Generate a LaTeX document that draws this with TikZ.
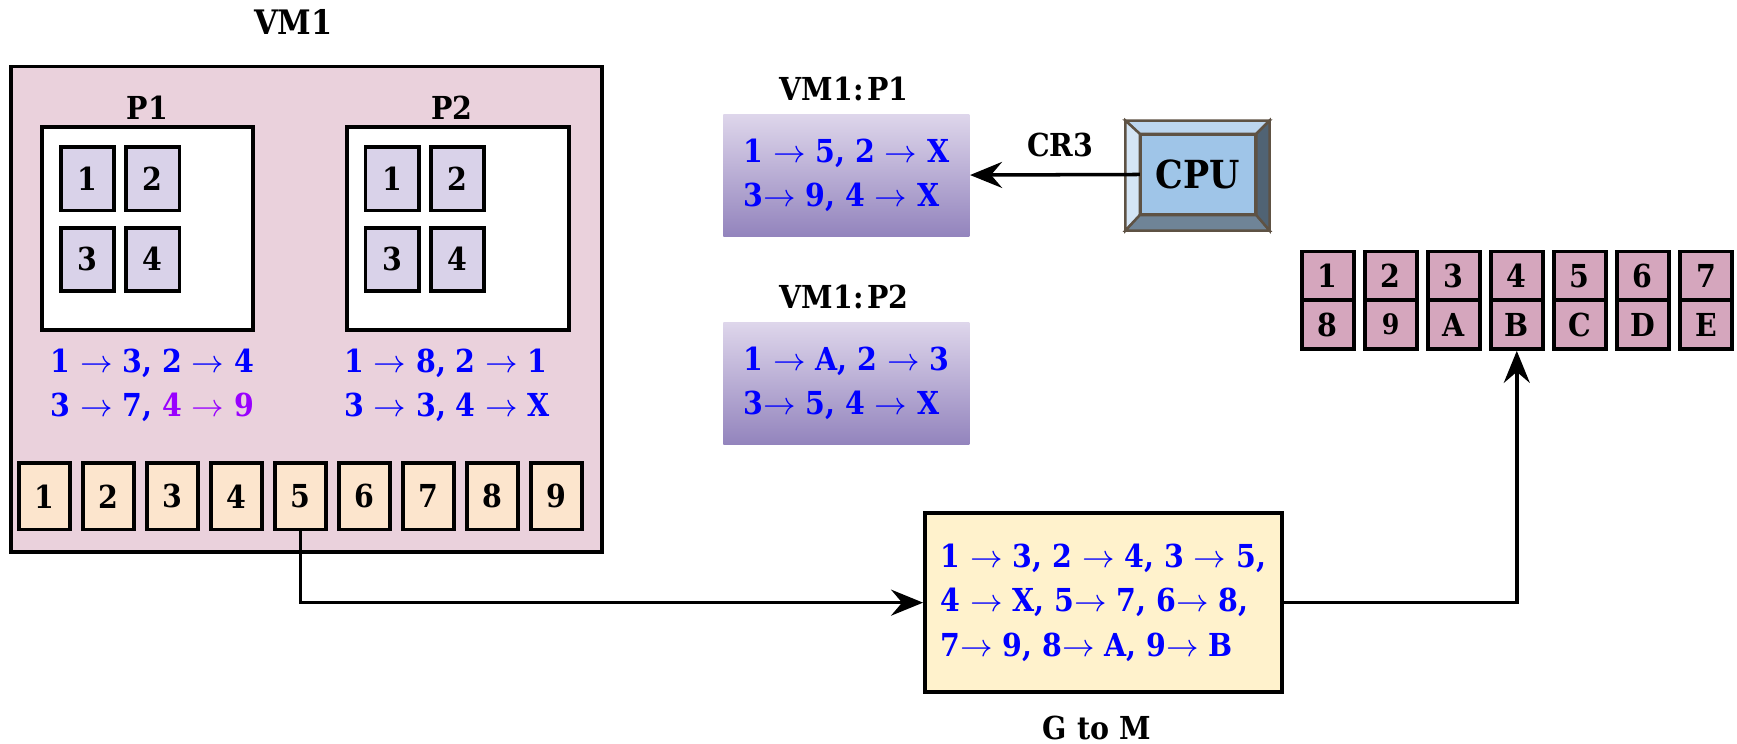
\documentclass[tikz,border=0pt]{standalone}
\usepackage{fontspec}
\setmainfont{DejaVu Serif Condensed}
\usetikzlibrary{arrows.meta,calc}
\definecolor{vmpink}{HTML}{EAD1DC}
\definecolor{pagegray}{HTML}{D9D2E9}
\definecolor{peach}{HTML}{FCE5CD}
\definecolor{mpink}{HTML}{D5A6BD}
\definecolor{gtmyellow}{HTML}{FFF2CC}
\definecolor{tbltop}{HTML}{DED6EB}
\definecolor{tblbot}{HTML}{9384BD}
\definecolor{mapblue}{HTML}{0000FF}
\definecolor{mappurple}{HTML}{9900FF}
\definecolor{cpuface}{HTML}{9FC5E8}
\definecolor{cpuedge}{HTML}{5E5244}
\tikzset{
  box/.style={draw=black, line width=1.1pt, inner sep=0pt},
  vm-box/.style={box, fill=vmpink, minimum width=59.05mm, minimum height=48.52mm},
  pt-box/.style={box, fill=white, minimum height=20.27mm},
  page/.style={box, fill=pagegray, minimum width=5.32mm, minimum height=6.31mm},
  gframe/.style={box, fill=peach, minimum width=5.1mm, minimum height=6.65mm},
  mframe/.style={box, fill=mpink, minimum width=5.2mm, minimum height=4.87mm},
  pt-table/.style={minimum width=24.6mm, minimum height=12.2mm, inner sep=0pt,
    top color=tbltop, bottom color=tblbot, align=left, text=mapblue},
  map/.style={text=mapblue, align=left, inner sep=0pt},
  cpu-box/.style={draw=cpuedge, line width=0.7pt, fill=cpuface,
    minimum width=11.4mm, minimum height=7.87mm, font=\fontsize{11}{13}\selectfont\bfseries},
  conn/.style={line width=1pt, -{Stealth[length=3.2mm, width=2.6mm, inset=1.1mm]}}
}
\newcommand{\ra}{$\rightarrow$}

\begin{document}
\begin{tikzpicture}[x=0.11078mm, y=-0.11078mm, font=\fontsize{9}{12.6}\selectfont\bfseries]
  \useasboundingbox (0,0) rectangle (1568,671);

  % guest VM with its two processes
  \node[font=\fontsize{9.6}{12}\selectfont\bfseries] (vm-lbl) at (265,20) {VM1};
  \node[vm-box] (vm) at (276.5,279) {};
  \node (p1-lbl) at (133,97) {P1};
  \node (p2-lbl) at (408,97) {P2};
  \node[pt-box, minimum width=21.05mm] (p1) at (133,206.5) {};
  \node[pt-box, minimum width=22.27mm] (p2) at (413.5,206.5) {};
  \foreach \n/\x/\y in {1/79/161.5, 2/138/161.5, 3/79/234, 4/138/234} {
    \node[page] (p1-\n) at (\x,\y) {\n};
    \node[page] (p2-\n) at (\x+275,\y) {\n};
  }
  \node[map, anchor=west] (p1-map) at (45,348)
    {1 \ra{} 3, 2 \ra{} 4\\3 \ra{} 7, \textcolor{mappurple}{4 \ra{} 9}};
  \node[map, anchor=west] (p2-map) at (310,348)
    {1 \ra{} 8, 2 \ra{} 1\\3 \ra{} 3, 4 \ra{} X};

  % guest physical frames
  \foreach \i in {1,...,9}
    \node[gframe] (g\i) at ({40+(\i-1)*57.8},448) {\i};

  % page tables seen from the host
  \node (t1-lbl) at (762,80) {VM1:\hspace{0.12em}P1};
  \node[pt-table] (t1) at (764,158) {1 \ra{} 5, 2 \ra{} X\\3\ra{} 9, 4 \ra{} X};
  \node (t2-lbl) at (762,268) {VM1:\hspace{0.12em}P2};
  \node[pt-table] (t2) at (764,346) {1 \ra{} A, 2 \ra{} 3\\3\ra{} 5, 4 \ra{} X};

  % CPU with bevelled frame
  \node[cpu-box] (cpu) at (1081.5,157.5) {CPU};
  \coordinate (o-nw) at ($(cpu.north west)+(-13,-12)$);
  \coordinate (o-ne) at ($(cpu.north east)+(12,-12)$);
  \coordinate (o-se) at ($(cpu.south east)+(12,14)$);
  \coordinate (o-sw) at ($(cpu.south west)+(-13,14)$);
  \begin{scope}[draw=cpuedge, line width=0.7pt]
    \filldraw[fill=cpuface!70!white] (o-nw) -- (o-ne) -- (cpu.north east) -- (cpu.north west) -- cycle;
    \filldraw[fill=cpuface!45!white] (o-nw) -- (cpu.north west) -- (cpu.south west) -- (o-sw) -- cycle;
    \filldraw[fill=cpuface!60!black!90] (o-sw) -- (cpu.south west) -- (cpu.south east) -- (o-se) -- cycle;
    \filldraw[fill=cpuface!50!black] (o-ne) -- (o-se) -- (cpu.south east) -- (cpu.north east) -- cycle;
  \end{scope}
  \draw[conn] (cpu.west) -- node[above=0.4mm, pos=0.47] (cr3) {CR3} (t1.east);

  % host physical frames
  \foreach \i [count=\k] in {1,...,7}
    \node[mframe] (mt\k) at ({1198.5+(\k-1)*56.9},249) {\i};
  \foreach \i [count=\k] in {8,{\footnotesize 9},A,B,C,D,E}
    \node[mframe] (mb\k) at ({1198.5+(\k-1)*56.9},293) {\i};

  % guest to machine table
  \node[box, fill=gtmyellow, minimum width=35.67mm, minimum height=17.95mm,
    align=left, text=mapblue] (gtm) at (996,544)
    {1 \ra{} 3, 2 \ra{} 4, 3 \ra{} 5,\\4 \ra{} X, 5\ra{} 7, 6\ra{} 8,\\7\ra{} 9, 8\ra{} A, 9\ra{} B};
  \node (gtm-lbl) at (990,657) {G to M};

  \draw[conn] (g5.south) |- (gtm.west);
  \draw[conn] (gtm.east) -| (mb4.south);
\end{tikzpicture}
\end{document}
